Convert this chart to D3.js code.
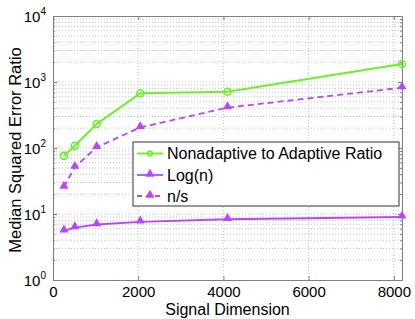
<!DOCTYPE html>
<html>
<head>
<meta charset="utf-8">
<script src="https://cdn.jsdelivr.net/npm/d3@7"></script>
<style>
  body { margin: 0; background: #fff; }
  text { font-family: "Liberation Sans", Arial, sans-serif; fill: #000; }
</style>
</head>
<body>
<script>
// data
var dims = [256, 512, 1024, 2048, 4096, 8192];
var ratio = [76, 108, 231, 674, 713, 1874];
var logn = [5.55, 6.24, 6.93, 7.62, 8.32, 9.01];
var nOverS = [25.6, 51.2, 102.4, 204.8, 409.6, 819.2];
var xTicks = [0, 2000, 4000, 6000, 8000];
var yDecades = [0, 1, 2, 3, 4];
var seriesNames = ["Nonadaptive to Adaptive Ratio", "Log(n)", "n/s"];

const width = 415, height = 319;
const m = {left: 53, top: 16, right: 13, bottom: 39};
const green = "#6cf02a", purple = "#bb44ff";

var svg = d3.select("body").append("svg")
    .attr("width", width)
    .attr("height", height);

var x = d3.scaleLinear().domain([0, 8192]).range([m.left, width - m.right]);
var y = d3.scaleLog().domain([1, 10000]).range([height - m.bottom, m.top]);

var g = svg.append("g");

// minor + major log grid
var minorVals = [];
for (var d = 0; d < 4; d++) {
    for (var k = 1; k < 10; k++) minorVals.push(k * Math.pow(10, d));
}
minorVals.push(10000);

g.selectAll("line.hgrid")
    .data(minorVals.filter(function(v){ return v > 1 && v < 10000; }))
    .enter().append("line")
    .attr("class", "hgrid")
    .attr("x1", x(0)).attr("x2", x(8192))
    .attr("y1", function(v){ return y(v); })
    .attr("y2", function(v){ return y(v); })
    .style("stroke", "#c8c8c8")
    .style("stroke-dasharray", "1,2")
    .style("stroke-width", 1);

g.selectAll("line.vgrid")
    .data(xTicks.slice(1))
    .enter().append("line")
    .attr("class", "vgrid")
    .attr("x1", function(v){ return x(v); })
    .attr("x2", function(v){ return x(v); })
    .attr("y1", y(1)).attr("y2", y(10000))
    .style("stroke", "#c8c8c8")
    .style("stroke-dasharray", "1,2")
    .style("stroke-width", 1);

// axes (ticks pointing inward like matlab)
var xAxis = d3.axisBottom(x).tickValues(xTicks).tickSizeInner(-4).tickSizeOuter(0).tickPadding(6)
    .tickFormat(d3.format("d"));
var xTop = d3.axisTop(x).tickValues(xTicks).tickSizeInner(-4).tickSizeOuter(0).tickFormat("");
var yAxis = d3.axisLeft(y).tickValues(minorVals).tickSizeOuter(0).tickFormat("");
var yRight = d3.axisRight(y).tickValues(minorVals).tickSizeOuter(0).tickFormat("");

function styleAxis(sel) {
    sel.select(".domain").style("stroke", "#808080");
    sel.selectAll(".tick line").style("stroke", "#808080");
    sel.selectAll(".tick text").style("font-size", "15px")
        .style("font-family", "Liberation Sans, Arial, sans-serif").style("fill", "#000");
}

svg.append("g").attr("transform", "translate(0," + y(1) + ")").call(xAxis).call(styleAxis);
svg.append("g").attr("transform", "translate(0," + y(10000) + ")").call(xTop).call(styleAxis);
var ya = svg.append("g").attr("transform", "translate(" + x(0) + ",0)").call(yAxis).call(styleAxis);
var yb = svg.append("g").attr("transform", "translate(" + x(8192) + ",0)").call(yRight).call(styleAxis);
[ya, yb].forEach(function(a, i) {
    a.selectAll(".tick line")
        .attr("x2", function(v){
            var major = Math.abs(Math.log10(v) - Math.round(Math.log10(v))) < 1e-9;
            return (i == 0 ? 1 : -1) * (major ? 4 : 2);
        });
});

// y tick labels as 10^k
var yl = svg.append("g");
yDecades.forEach(function(k) {
    var t = yl.append("text")
        .attr("x", x(0) - 7)
        .attr("y", y(Math.pow(10, k)) + 6)
        .attr("text-anchor", "end")
        .style("font-size", "15px");
    t.append("tspan").text("10");
    t.append("tspan").attr("dy", -7).style("font-size", "10px").text(k);
});

// axis titles
svg.append("text")
    .attr("x", (x(0) + x(8192)) / 2)
    .attr("y", 315)
    .attr("text-anchor", "middle")
    .style("font-size", "16px")
    .text("Signal Dimension");

svg.append("text")
    .attr("transform", "translate(21," + ((y(1) + y(10000)) / 2 + 2) + ") rotate(-90)")
    .attr("text-anchor", "middle")
    .style("font-size", "16.5px")
    .text("Median Squared Error Ratio");

// series
var line = d3.line().x(function(d){ return x(d[0]); }).y(function(d){ return y(d[1]); });
var tri = d3.symbol().type(d3.symbolTriangle).size(36);

var sGreen = d3.zip(dims, ratio);
var sLog = d3.zip(dims, logn);
var sNs = d3.zip(dims, nOverS);

svg.append("path").datum(sNs).attr("d", line)
    .style("fill", "none").style("stroke", purple).style("stroke-width", 1.8)
    .style("stroke-dasharray", "6,4");
svg.append("path").datum(sLog).attr("d", line)
    .style("fill", "none").style("stroke", purple).style("stroke-width", 1.8);
svg.append("path").datum(sGreen).attr("d", line)
    .style("fill", "none").style("stroke", green).style("stroke-width", 2);

svg.selectAll("path.tri")
    .data(sNs.concat(sLog))
    .enter().append("path")
    .attr("class", "tri")
    .attr("d", tri)
    .attr("transform", function(d){ return "translate(" + x(d[0]) + "," + (y(d[1]) - 1) + ")"; })
    .style("fill", purple);

svg.selectAll("circle.pt")
    .data(sGreen)
    .enter().append("circle")
    .attr("class", "pt")
    .attr("cx", function(d){ return x(d[0]); })
    .attr("cy", function(d){ return y(d[1]); })
    .attr("r", 3.5)
    .style("fill", "none")
    .style("stroke", green)
    .style("stroke-width", 1.6);

// legend
var lg = svg.append("g").attr("transform", "translate(133,142)");
lg.append("rect").attr("width", 266).attr("height", 64)
    .style("fill", "#fff").style("stroke", "#333").style("stroke-width", 1);
var rows = [11.5, 33, 54];
rows.forEach(function(ry, i) {
    var col = i == 0 ? green : purple;
    lg.append("line").attr("x1", 4).attr("x2", 30).attr("y1", ry).attr("y2", ry)
        .style("stroke", col).style("stroke-width", i == 0 ? 2 : 1.8)
        .style("stroke-dasharray", i == 2 ? "5,4" : null);
    if (i == 0) {
        lg.append("circle").attr("cx", 17).attr("cy", ry).attr("r", 2.5)
            .style("fill", "none").style("stroke", green).style("stroke-width", 1.3);
    } else {
        lg.append("path").attr("d", tri).attr("transform", "translate(17," + (ry - 1) + ")")
            .style("fill", purple);
    }
    lg.append("text").attr("x", 34).attr("y", ry + 5.5)
        .style("font-size", "16px")
        .text(seriesNames[i]);
});
</script>
</body>
</html>
